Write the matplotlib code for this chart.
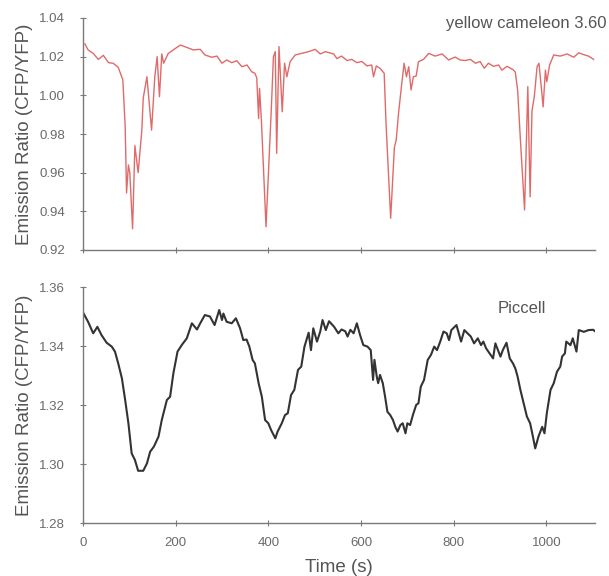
import matplotlib
matplotlib.use("Agg")
import matplotlib.pyplot as plt
import numpy as np

# --- data: yellow cameleon 3.60 (red trace) ---
ycam_t = [4, 11, 22, 33, 44, 55, 65, 76, 86, 91, 94, 98, 101, 107, 112, 119, 127, 130, 138,
          148, 155, 160, 165, 170, 174, 184, 195, 210, 224, 238, 253, 263, 278, 289, 300,
          310, 321, 332, 343, 354, 364, 371, 375, 379, 381, 385, 395, 406, 411, 415, 418,
          423, 430, 435, 440, 447, 458, 472, 487, 501, 512, 523, 541, 548, 558, 570, 580,
          591, 602, 613, 623, 627, 633, 641, 650, 654, 664, 672, 676, 681, 688, 693, 698,
          703, 708, 713, 719, 724, 735, 746, 760, 775, 789, 803, 814, 825, 836, 847, 857,
          866, 875, 886, 897, 904, 915, 928, 933, 938, 944, 953, 960, 965, 969, 974, 980,
          984, 989, 993, 998, 1001, 1007, 1016, 1030, 1045, 1059, 1070, 1081, 1091, 1102]
ycam_v = [1.0266, 1.0235, 1.0217, 1.0186, 1.0207, 1.0169, 1.0166, 1.0145, 1.0080, 0.9840,
          0.9495, 0.9640, 0.9600, 0.9310, 0.9740, 0.9600, 0.9820, 0.9986, 1.0096,
          0.9820, 1.0096, 1.0200, 0.9993, 1.0214, 1.0166, 1.0217, 1.0235, 1.0260, 1.0248,
          1.0235, 1.0238, 1.0209, 1.0197, 1.0203, 1.0166,
          1.0183, 1.0169, 1.0179, 1.0148, 1.0157, 1.0122, 1.0114, 1.0090, 0.9880, 1.0036,
          0.9870, 0.9320, 0.9907, 1.0200, 1.0226, 0.9700,
          1.0252, 0.9915, 1.0166, 1.0096, 1.0174, 1.0209, 1.0217, 1.0226, 1.0238, 1.0214,
          1.0226, 1.0214, 1.0190, 1.0203, 1.0180, 1.0186,
          1.0169, 1.0175, 1.0152, 1.0157, 1.0096, 1.0152, 1.0140, 1.0114, 0.9855, 0.9364,
          0.9730, 0.9770, 0.9907, 1.0062, 1.0166, 1.0096,
          1.0148, 1.0028, 1.0096, 1.0100, 1.0174, 1.0186, 1.0217, 1.0203, 1.0214, 1.0183,
          1.0198, 1.0183, 1.0180, 1.0186, 1.0166, 1.0175,
          1.0140, 1.0166, 1.0150, 1.0157, 1.0130, 1.0150, 1.0133, 1.0120, 1.0028, 0.9770,
          0.9407, 1.0045, 0.9475, 0.9920, 0.9993, 1.0148,
          1.0166, 1.0045, 0.9940, 1.0130, 1.0070, 1.0157, 1.0209, 1.0203, 1.0214, 1.0197,
          1.0220, 1.0210, 1.0203, 1.0186]

# --- data: Piccell (black trace) ---
pic_t = [1, 11, 22, 31, 40, 51, 62, 69, 76, 84, 91, 98, 105, 112, 119, 130, 138, 145, 153,
         163, 170, 181, 188, 195, 204, 213, 224, 235, 246, 253, 263, 274, 284, 294, 300,
         303, 310, 321, 330, 339, 346, 353, 359, 366, 371, 379, 386, 393, 400, 406, 415,
         420, 429, 436, 442, 449, 456, 464, 471, 478, 487, 492, 497, 505, 512, 517, 524,
         531, 542, 551, 558, 566, 571, 577, 584, 591, 598, 605, 614, 621, 626, 629, 634,
         637, 641, 647, 652, 657, 663, 669, 674, 679, 685, 690, 696, 700, 706, 712, 719,
         724, 729, 736, 744, 751, 758, 764, 771, 778, 785, 790, 795, 806, 811, 816, 823,
         830, 837, 844, 852, 859, 864, 870, 885, 890, 901, 906, 914, 921, 928, 933, 938,
         944, 951, 958, 965, 971, 976, 983, 991, 996, 1001, 1009, 1016, 1023, 1030, 1034,
         1040, 1043, 1052, 1057, 1065, 1070, 1081, 1091, 1101, 1105]
pic_v = [1.3511, 1.3482, 1.3443, 1.3465, 1.3437, 1.3411, 1.3398, 1.3381, 1.3341, 1.3290,
         1.3217, 1.3138, 1.3036, 1.3014, 1.2977, 1.2977, 1.3002, 1.3042, 1.3059,
         1.3093, 1.3149, 1.3217, 1.3228, 1.3307, 1.3381, 1.3403, 1.3426, 1.3477, 1.3456,
         1.3477, 1.3505, 1.3500, 1.3471, 1.3522, 1.3488,
         1.3510, 1.3482, 1.3477, 1.3494, 1.3460, 1.3420, 1.3422, 1.3398, 1.3353, 1.3341,
         1.3274, 1.3228, 1.3149, 1.3138, 1.3115, 1.3087,
         1.3110, 1.3138, 1.3166, 1.3172, 1.3234, 1.3251, 1.3319, 1.3330, 1.3398, 1.3445,
         1.3386, 1.3460, 1.3415, 1.3449, 1.3488, 1.3454,
         1.3484, 1.3465, 1.3443, 1.3456, 1.3450, 1.3432, 1.3455, 1.3443, 1.3477, 1.3437,
         1.3403, 1.3398, 1.3386, 1.3285, 1.3353, 1.3296,
         1.3274, 1.3302, 1.3274, 1.3228, 1.3177, 1.3166, 1.3149, 1.3126, 1.3110, 1.3132,
         1.3138, 1.3104, 1.3138, 1.3132, 1.3166, 1.3200,
         1.3206, 1.3262, 1.3285, 1.3353, 1.3370, 1.3398, 1.3386, 1.3415, 1.3449, 1.3443,
         1.3420, 1.3454, 1.3471, 1.3443, 1.3415, 1.3454,
         1.3443, 1.3432, 1.3409, 1.3426, 1.3403, 1.3415, 1.3392, 1.3358, 1.3409, 1.3364,
         1.3386, 1.3411, 1.3358, 1.3341, 1.3324, 1.3296,
         1.3251, 1.3206, 1.3161, 1.3138, 1.3093, 1.3053, 1.3093, 1.3126, 1.3104, 1.3172,
         1.3251, 1.3274, 1.3313, 1.3330, 1.3364,
         1.3375, 1.3415, 1.3403, 1.3426, 1.3381, 1.3454, 1.3448, 1.3454, 1.3455, 1.3450]

x_ticks = [0, 200, 400, 600, 800, 1000]
top_yticks = [0.92, 0.94, 0.96, 0.98, 1.00, 1.02, 1.04]
bot_yticks = [1.28, 1.30, 1.32, 1.34, 1.36]

plt.rcParams['font.family'] = ['Liberation Sans', 'DejaVu Sans']

W, H = 609, 576
fig = plt.figure(figsize=(W / 100, H / 100), dpi=100)
fig.patch.set_facecolor('white')

def frac(x0, y0, x1, y1):
    return [x0 / W, 1 - y1 / H, (x1 - x0) / W, (y1 - y0) / H]

ax1 = fig.add_axes(frac(83, 18, 595, 250))
ax2 = fig.add_axes(frac(83, 287, 595, 523))

spine_c = '#7a7a7a'
tick_c = '#6a6a6a'
label_c = '#555555'

for ax in (ax1, ax2):
    for s in ('top', 'right'):
        ax.spines[s].set_visible(False)
    for s in ('left', 'bottom'):
        ax.spines[s].set_color(spine_c)
        ax.spines[s].set_linewidth(1.0)
    ax.set_xlim(0, 1105)
    ax.set_xticks(x_ticks)
    ax.tick_params(axis='both', direction='inout', length=4, width=0.8, color=spine_c,
                   labelcolor=tick_c, labelsize=9.5)
    ax.tick_params(axis='y', pad=11)
    ax.tick_params(axis='x', pad=8)

ax1.plot(ycam_t, ycam_v, color='#e06a6a', lw=1.0)
ax1.set_ylim(0.92, 1.04)
ax1.set_yticks(top_yticks)
ax1.set_yticklabels([f"{v:.2f}" for v in top_yticks])
ax1.tick_params(axis='x', labelbottom=False)
ax1.set_ylabel('Emission Ratio (CFP/YFP)', fontsize=13.5, color=label_c)
ax1.yaxis.set_label_coords(-0.097, 0.5)
ax1.text(1.023, 0.978, 'yellow cameleon 3.60', transform=ax1.transAxes, ha='right',
         va='center', fontsize=12, color='#555555')

ax2.plot(pic_t, pic_v, color='#333333', lw=1.5)
ax2.set_ylim(1.28, 1.36)
ax2.set_yticks(bot_yticks)
ax2.set_yticklabels([f"{v:.2f}" for v in bot_yticks])
ax2.set_ylabel('Emission Ratio (CFP/YFP)', fontsize=13.5, color=label_c)
ax2.yaxis.set_label_coords(-0.097, 0.5)
ax2.set_xlabel('Time (s)', fontsize=13.5, color=label_c, labelpad=7)
ax2.text(0.857, 0.911, 'Piccell', transform=ax2.transAxes, ha='center', va='center',
         fontsize=12, color='#555555')

fig.savefig('out.png', dpi=100)
